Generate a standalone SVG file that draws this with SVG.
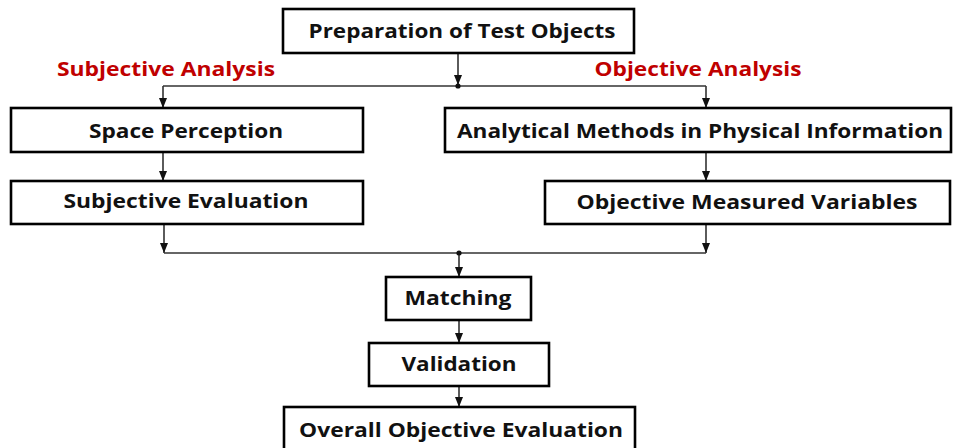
<svg xmlns="http://www.w3.org/2000/svg" width="953" height="448" viewBox="0 0 953 448">
<defs>
<style>
.box{fill:#fff;stroke:#000;stroke-width:2.6}
.t{font-family:"Open Sans","Liberation Sans",sans-serif;font-weight:bold;font-size:20px;fill:#111;text-anchor:middle}
.r{fill:#C00000}
.c{fill:none;stroke:#333;stroke-width:1.6}
</style>
<marker id="ah" markerUnits="userSpaceOnUse" markerWidth="10" markerHeight="10" viewBox="0 0 10 10" refX="10" refY="5" orient="auto">
<path d="M0,1 L10,5 L0,9 Z" fill="#111"/>
</marker>
</defs>
<rect width="953" height="448" fill="#fff"/>
<g id="connectors">
<path class="c" d="M458,53 V85" marker-end="url(#ah)"/>
<path class="c" d="M163,86 H706"/>
<path class="c" d="M163,86 V108" marker-end="url(#ah)"/>
<path class="c" d="M706,86 V108" marker-end="url(#ah)"/>
<path class="c" d="M163,152 V181" marker-end="url(#ah)"/>
<path class="c" d="M706,152 V181" marker-end="url(#ah)"/>
<path class="c" d="M164,224 V253" marker-end="url(#ah)"/>
<path class="c" d="M706,224 V253" marker-end="url(#ah)"/>
<path class="c" d="M164,253 H706"/>
<path class="c" d="M459,253 V277" marker-end="url(#ah)"/>
<path class="c" d="M459,320 V343" marker-end="url(#ah)"/>
<path class="c" d="M459,386 V407" marker-end="url(#ah)"/>
<circle cx="458" cy="86" r="2.6" fill="#111"/>
<circle cx="459" cy="253" r="2.6" fill="#111"/>
</g>
<g id="labels">
<text class="t r" x="166" y="76" textLength="218" lengthAdjust="spacingAndGlyphs">Subjective Analysis</text>
<text class="t r" x="698" y="76" textLength="207" lengthAdjust="spacingAndGlyphs">Objective Analysis</text>
</g>
<g id="n-prep">
<rect class="box" x="283" y="9" width="351" height="44"/>
<text class="t" x="462" y="38" textLength="307" lengthAdjust="spacingAndGlyphs">Preparation of Test Objects</text>
</g>
<g id="n-space">
<rect class="box" x="11" y="108" width="352" height="44"/>
<text class="t" x="186" y="138" textLength="194" lengthAdjust="spacingAndGlyphs">Space Perception</text>
</g>
<g id="n-subj">
<rect class="box" x="11" y="181" width="352" height="43"/>
<text class="t" x="186" y="208" textLength="245" lengthAdjust="spacingAndGlyphs">Subjective Evaluation</text>
</g>
<g id="n-anal">
<rect class="box" x="445" y="108" width="506" height="44"/>
<text class="t" x="700" y="138" textLength="486" lengthAdjust="spacingAndGlyphs">Analytical Methods in Physical Information</text>
</g>
<g id="n-omv">
<rect class="box" x="545" y="181" width="405" height="43"/>
<text class="t" x="747" y="209" textLength="341" lengthAdjust="spacingAndGlyphs">Objective Measured Variables</text>
</g>
<g id="n-match">
<rect class="box" x="386" y="277" width="145" height="43"/>
<text class="t" x="458" y="305" textLength="107" lengthAdjust="spacingAndGlyphs">Matching</text>
</g>
<g id="n-valid">
<rect class="box" x="369" y="343" width="180" height="43"/>
<text class="t" x="459" y="371" textLength="115" lengthAdjust="spacingAndGlyphs">Validation</text>
</g>
<g id="n-overall">
<rect class="box" x="284" y="407" width="351" height="48"/>
<text class="t" x="461" y="437" textLength="324" lengthAdjust="spacingAndGlyphs">Overall Objective Evaluation</text>
</g>
</svg>
